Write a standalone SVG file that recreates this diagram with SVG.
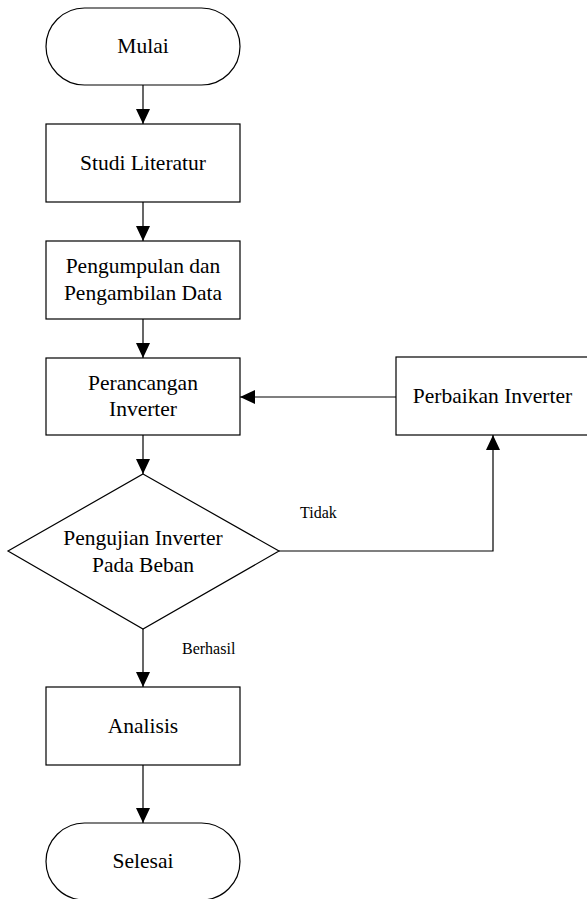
<svg xmlns="http://www.w3.org/2000/svg" width="587" height="899" viewBox="0 0 587 899">
<style>
.s{fill:#fff;stroke:#000;stroke-width:1.2}
.t{font-size:21.5px;fill:#000;text-anchor:middle}
.l{font-size:16px;fill:#000}
.c{fill:none;stroke:#000;stroke-width:1.2}
</style>
<defs>
<marker id="ah" markerUnits="userSpaceOnUse" markerWidth="15" markerHeight="14" refX="15" refY="7" orient="auto">
<path d="M0,0 L15,7 L0,14 Z" fill="#000"/>
</marker>
</defs>
<rect width="587" height="899" fill="#fff"/>
<g font-family="Liberation Serif, Tinos, Times New Roman, serif">
<g id="connectors">
<line class="c" x1="143" y1="85" x2="143" y2="124" marker-end="url(#ah)"/>
<line class="c" x1="143" y1="202" x2="143" y2="241" marker-end="url(#ah)"/>
<line class="c" x1="143" y1="319" x2="143" y2="358" marker-end="url(#ah)"/>
<line class="c" x1="143" y1="435" x2="143" y2="474" marker-end="url(#ah)"/>
<line class="c" x1="143" y1="629" x2="143" y2="687" marker-end="url(#ah)"/>
<line class="c" x1="143" y1="765" x2="143" y2="823" marker-end="url(#ah)"/>
<line class="c" x1="396" y1="397" x2="240" y2="397" marker-end="url(#ah)"/>
<polyline class="c" points="279,551 493,551 493,435" marker-end="url(#ah)"/>
<text class="l" x="300" y="518">Tidak</text>
<text class="l" x="182" y="654">Berhasil</text>
</g>
<g id="mulai">
<rect class="s" x="46" y="8" width="194" height="77" rx="38.5" ry="38.5"/>
<text class="t" x="143" y="53">Mulai</text>
</g>
<g id="studi">
<rect class="s" x="46" y="124" width="194" height="78"/>
<text class="t" x="143" y="170">Studi Literatur</text>
</g>
<g id="pengumpulan">
<rect class="s" x="46" y="241" width="194" height="78"/>
<text class="t" x="143" y="273">Pengumpulan dan</text>
<text class="t" x="143" y="300">Pengambilan Data</text>
</g>
<g id="perancangan">
<rect class="s" x="46" y="358" width="194" height="77"/>
<text class="t" x="143" y="390">Perancangan</text>
<text class="t" x="143" y="416">Inverter</text>
</g>
<g id="perbaikan">
<rect class="s" x="396" y="357" width="193" height="78"/>
<text class="t" x="492.5" y="403">Perbaikan Inverter</text>
</g>
<g id="pengujian">
<polygon class="s" points="143,474 279,551 143,629 8,551"/>
<text class="t" x="143" y="545">Pengujian Inverter</text>
<text class="t" x="143" y="572">Pada Beban</text>
</g>
<g id="analisis">
<rect class="s" x="46" y="687" width="194" height="78"/>
<text class="t" x="143" y="733">Analisis</text>
</g>
<g id="selesai">
<rect class="s" x="46" y="823" width="194" height="77" rx="38.5" ry="38.5"/>
<text class="t" x="143" y="868">Selesai</text>
</g>
</g>
</svg>
